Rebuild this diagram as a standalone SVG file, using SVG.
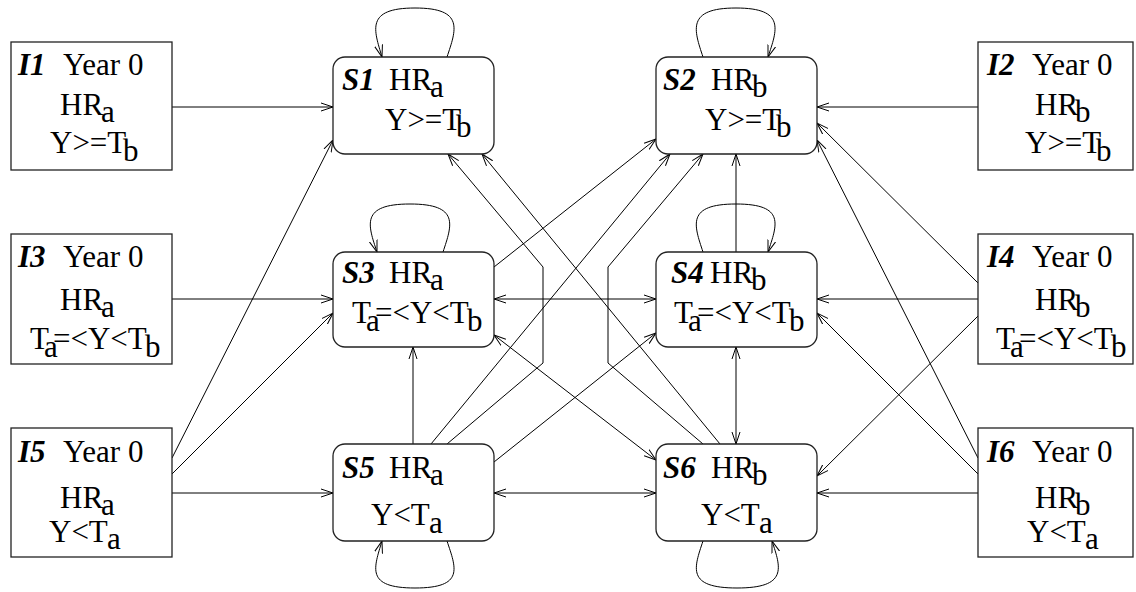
<svg xmlns="http://www.w3.org/2000/svg" width="1136" height="592" viewBox="0 0 1136 592">
<style>
.bg{fill:#fff}
.ibox{fill:#fff;stroke:#222;stroke-width:1.3}
.sbox{fill:#fff;stroke:#222;stroke-width:1.3}
.t{font-family:"Liberation Serif","Times New Roman",serif;font-size:31px;fill:#000}
.id{font-weight:bold;font-style:italic}
.c{fill:none;stroke:#000;stroke-width:1}
.a{marker-end:url(#ah)}
.d{marker-start:url(#ah);marker-end:url(#ah)}
</style>
<defs>
<marker id="ah" viewBox="0 0 12 10" refX="12" refY="5" markerWidth="12" markerHeight="10" markerUnits="userSpaceOnUse" orient="auto-start-reverse">
<path d="M0,1 L12,5 L0,9" fill="none" stroke="#000" stroke-width="1"/>
</marker>
</defs>
<rect class="bg" x="0" y="0" width="1136" height="592"/>

<g id="connectors">
<line class="c a" x1="172" y1="107" x2="333" y2="107"/>
<line class="c a" x1="978" y1="107" x2="817" y2="107"/>
<line class="c a" x1="172" y1="299" x2="333" y2="299"/>
<line class="c a" x1="978" y1="299" x2="817" y2="299"/>
<line class="c d" x1="494" y1="299" x2="656" y2="299"/>
<line class="c a" x1="172" y1="493" x2="333" y2="493"/>
<line class="c a" x1="978" y1="493" x2="817" y2="493"/>
<line class="c d" x1="494" y1="493" x2="656" y2="493"/>
<line class="c a" x1="172" y1="458" x2="333" y2="140"/>
<line class="c a" x1="172" y1="474" x2="333" y2="313"/>
<line class="c a" x1="978" y1="458" x2="817" y2="140"/>
<line class="c a" x1="978" y1="474" x2="817" y2="313"/>
<line class="c a" x1="978" y1="283" x2="817" y2="123"/>
<line class="c a" x1="978" y1="316" x2="817" y2="476"/>
<line class="c a" x1="494" y1="267" x2="656" y2="139"/>
<line class="c a" x1="431" y1="444" x2="670" y2="154"/>
<line class="c a" x1="720" y1="444" x2="482" y2="154"/>
<polyline class="c a" points="447,444 543,363 543,267 448,154"/>
<polyline class="c a" points="703,444 608,363 608,267 703,154"/>
<line class="c d" x1="494" y1="335" x2="656" y2="460"/>
<line class="c a" x1="494" y1="462" x2="656" y2="333"/>
<line class="c a" x1="413" y1="444" x2="413" y2="347"/>
<line class="c a" x1="736" y1="252" x2="736" y2="154"/>
<line class="c d" x1="736" y1="347" x2="736" y2="444"/>
<path class="c a" d="M447,57 C456,30 465,8 415,8 C365,8 374,30 382,57"/>
<path class="c a" d="M703,57 C694,30 686,8 736,8 C786,8 777,30 768,57"/>
<path class="c a" d="M443,252 C452,225 460,204 410,204 C360,204 368,225 377,252"/>
<path class="c a" d="M703,252 C694,225 686,204 736,204 C786,204 777,225 768,252"/>
<path class="c a" d="M447,541 C456,568 465,588 415,588 C365,588 374,568 382,541"/>
<path class="c a" d="M703,541 C694,568 686,588 737,588 C788,588 781,568 772,541"/>
</g>

<g id="I1">
<rect class="ibox" x="11" y="42" width="161" height="128"/>
<text class="t"><tspan class="id" x="18" y="75">I1</tspan><tspan x="63" y="75">Year 0</tspan></text>
<text class="t"><tspan x="60" y="115">HR</tspan><tspan x="101" y="122">a</tspan></text>
<text class="t"><tspan x="50" y="153">Y&gt;=T</tspan><tspan x="123" y="161">b</tspan></text>
</g>
<g id="I2">
<rect class="ibox" x="978" y="42" width="155" height="128"/>
<text class="t"><tspan class="id" x="987" y="75">I2</tspan><tspan x="1032" y="75">Year 0</tspan></text>
<text class="t"><tspan x="1035" y="115">HR</tspan><tspan x="1075" y="122">b</tspan></text>
<text class="t"><tspan x="1025" y="153">Y&gt;=T</tspan><tspan x="1096" y="161">b</tspan></text>
</g>
<g id="I3">
<rect class="ibox" x="11" y="234" width="161" height="130"/>
<text class="t"><tspan class="id" x="18" y="267">I3</tspan><tspan x="63" y="267">Year 0</tspan></text>
<text class="t"><tspan x="60" y="310">HR</tspan><tspan x="101" y="317">a</tspan></text>
<text class="t"><tspan x="30" y="349">T</tspan><tspan x="44" y="357">a</tspan><tspan x="53" y="349">=&lt;Y&lt;T</tspan><tspan x="145" y="357">b</tspan></text>
</g>
<g id="I4">
<rect class="ibox" x="978" y="234" width="155" height="130"/>
<text class="t"><tspan class="id" x="987" y="267">I4</tspan><tspan x="1032" y="267">Year 0</tspan></text>
<text class="t"><tspan x="1035" y="310">HR</tspan><tspan x="1075" y="317">b</tspan></text>
<text class="t"><tspan x="996" y="349">T</tspan><tspan x="1010" y="357">a</tspan><tspan x="1019" y="349">=&lt;Y&lt;T</tspan><tspan x="1111" y="357">b</tspan></text>
</g>
<g id="I5">
<rect class="ibox" x="11" y="428" width="161" height="129"/>
<text class="t"><tspan class="id" x="18" y="462">I5</tspan><tspan x="63" y="462">Year 0</tspan></text>
<text class="t"><tspan x="60" y="508">HR</tspan><tspan x="101" y="515">a</tspan></text>
<text class="t"><tspan x="49" y="542">Y&lt;T</tspan><tspan x="107" y="549">a</tspan></text>
</g>
<g id="I6">
<rect class="ibox" x="978" y="428" width="155" height="129"/>
<text class="t"><tspan class="id" x="987" y="462">I6</tspan><tspan x="1032" y="462">Year 0</tspan></text>
<text class="t"><tspan x="1035" y="508">HR</tspan><tspan x="1075" y="515">b</tspan></text>
<text class="t"><tspan x="1027" y="542">Y&lt;T</tspan><tspan x="1085" y="549">a</tspan></text>
</g>

<g id="S1">
<rect class="sbox" x="333" y="57" width="161" height="97" rx="12"/>
<text class="t"><tspan class="id" x="342" y="90">S1</tspan><tspan x="389" y="90">HR</tspan><tspan x="430" y="97">a</tspan></text>
<text class="t"><tspan x="385" y="130">Y&gt;=T</tspan><tspan x="456" y="137">b</tspan></text>
</g>
<g id="S2">
<rect class="sbox" x="656" y="57" width="161" height="97" rx="12"/>
<text class="t"><tspan class="id" x="663" y="90">S2</tspan><tspan x="711" y="90">HR</tspan><tspan x="752" y="97">b</tspan></text>
<text class="t"><tspan x="705" y="130">Y&gt;=T</tspan><tspan x="776" y="137">b</tspan></text>
</g>
<g id="S3">
<rect class="sbox" x="333" y="252" width="161" height="95" rx="12"/>
<text class="t"><tspan class="id" x="342" y="283">S3</tspan><tspan x="389" y="283">HR</tspan><tspan x="430" y="290">a</tspan></text>
<text class="t"><tspan x="352" y="323">T</tspan><tspan x="366" y="331">a</tspan><tspan x="375" y="323">=&lt;Y&lt;T</tspan><tspan x="467" y="331">b</tspan></text>
</g>
<g id="S4">
<rect class="sbox" x="656" y="252" width="161" height="95" rx="12"/>
<text class="t"><tspan class="id" x="671" y="283">S4</tspan><tspan x="710" y="283">HR</tspan><tspan x="751" y="290">b</tspan></text>
<text class="t"><tspan x="674" y="323">T</tspan><tspan x="688" y="331">a</tspan><tspan x="697" y="323">=&lt;Y&lt;T</tspan><tspan x="789" y="331">b</tspan></text>
</g>
<g id="S5">
<rect class="sbox" x="333" y="444" width="161" height="97" rx="12"/>
<text class="t"><tspan class="id" x="342" y="478">S5</tspan><tspan x="389" y="478">HR</tspan><tspan x="430" y="485">a</tspan></text>
<text class="t"><tspan x="371" y="525">Y&lt;T</tspan><tspan x="429" y="533">a</tspan></text>
</g>
<g id="S6">
<rect class="sbox" x="656" y="444" width="161" height="97" rx="12"/>
<text class="t"><tspan class="id" x="663" y="478">S6</tspan><tspan x="711" y="478">HR</tspan><tspan x="752" y="485">b</tspan></text>
<text class="t"><tspan x="701" y="525">Y&lt;T</tspan><tspan x="759" y="533">a</tspan></text>
</g>
</svg>
